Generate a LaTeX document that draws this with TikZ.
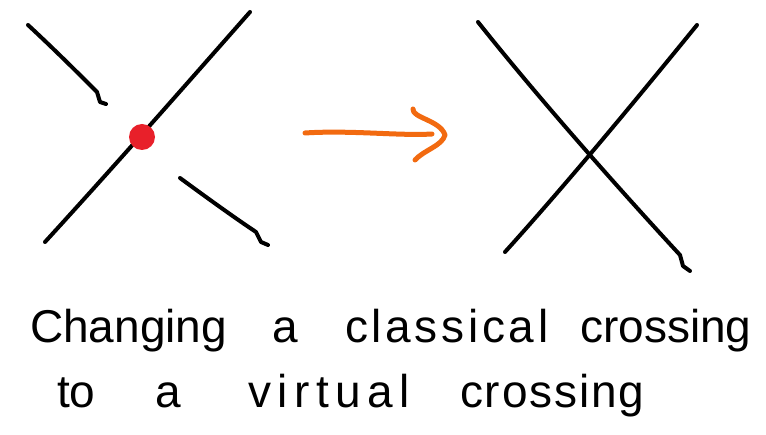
\documentclass[tikz,border=0pt]{standalone}
\usepackage{fontspec}
\setmainfont{Liberation Sans}
\usetikzlibrary{positioning, arrows.meta, calc}
\definecolor{dotred}{HTML}{E8202A}
\definecolor{arroworange}{HTML}{F26A10}

\begin{document}
\begin{tikzpicture}[x=1pt, y=-1pt,
  strand/.style={line width=4pt, line cap=round, line join=round},
  move/.style={strand, line width=5pt, draw=arroworange},
  word/.style={font=\fontsize{46}{52}\selectfont, anchor=base west, inner sep=0pt},
  wide/.style={word, font=\fontsize{46}{52}\selectfont\addfontfeature{LetterSpace=#1}}]
  \useasboundingbox (0,0) rectangle (766,435);
  % classical crossing
  \draw[strand] (45,242) .. controls (120,160) and (190,80) .. (250,12);
  \draw[strand] (28,25) .. controls (55,50) and (80,75) .. (97,92) -- (100,102) -- (106,104);
  \draw[strand] (180,178) .. controls (210,200) and (235,218) .. (256,232) -- (261,242) -- (268,245);
  \fill[dotred] (142,137) circle (13);
  % arrow
  \coordinate (from) at (305,133);
  \coordinate (to) at (432,134);
  \coordinate (tip) at (445,135);
  \draw[move] (from) .. controls (350,130) and (400,136) .. (to);
  \draw[move] (413,109) .. controls (412,118) and (440,120) .. (tip) .. controls (442,146) and (424,150) .. (415,160);
  % virtual crossing
  \draw[strand] (505,252) .. controls (570,180) and (640,95) .. (697,25);
  \draw[strand] (478,22) .. controls (540,100) and (620,190) .. (680,255) -- (683,266) -- (690,271);
  % caption
  \node[word] (changing) at (30,343) {Changing};
  \node[word] (a1) at (272,343) {a};
  \node[wide=8] (classical) at (345,343) {classical};
  \node[word] (crossing1) at (580,343) {crossing};
  \node[word] (to) at (57,408) {to};
  \node[word] (a2) at (155,408) {a};
  \node[wide=14] (virtual) at (248,408) {virtual};
  \node[wide=4] (crossing2) at (460,408) {crossing};
\end{tikzpicture}
\end{document}
